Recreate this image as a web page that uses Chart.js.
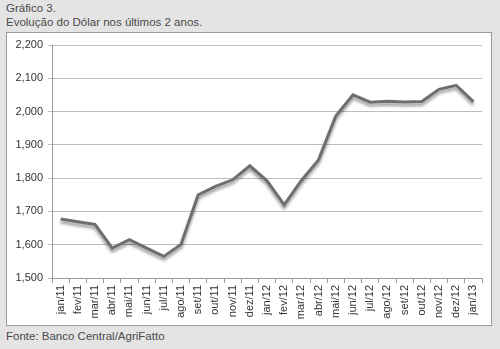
<!DOCTYPE html>
<html lang="pt">
<head>
<meta charset="UTF-8">
<title>Evolução do Dólar</title>
<script src="https://cdn.jsdelivr.net/npm/chart.js"></script>
<style>
    body {
        margin: 0;
        width: 500px;
        height: 349px;
        background: #e4e4e4;
        font-family: "Liberation Sans", Arial, sans-serif;
        position: relative;
        overflow: hidden;
    }
    .texto {
        position: absolute;
        left: 6px;
        font-size: 11.5px;
        color: #4a4a4a;
        white-space: nowrap;
    }
    #caixa {
        position: absolute;
        left: 6px;
        top: 32px;
        width: 484px;
        height: 292px;
        background: #fff;
        border: 1px solid #9a9a9a;
    }
    #grafico {
        position: absolute;
        left: 0;
        top: 0;
    }
</style>
</head>
<body>
<div class="texto" style="top:2px">Gráfico 3.</div>
<div class="texto" style="top:16px">Evolução do Dólar nos últimos 2 anos.</div>
<div id="caixa"><canvas id="grafico" width="484" height="292"></canvas></div>
<div class="texto" style="top:330px">Fonte: Banco Central/AgriFatto</div>

<script>
    const meses = ["jan/11", "fev/11", "mar/11", "abr/11", "mai/11", "jun/11", "jul/11", "ago/11",
        "set/11", "out/11", "nov/11", "dez/11", "jan/12", "fev/12", "mar/12", "abr/12", "mai/12",
        "jun/12", "jul/12", "ago/12", "set/12", "out/12", "nov/12", "dez/12", "jan/13"];
    const dolar = [1677, 1669, 1661, 1590, 1615, 1590, 1565, 1601,
        1750, 1775, 1795, 1837, 1792, 1720, 1793, 1855, 1987,
        2050, 2028, 2031, 2029, 2030, 2067, 2079, 2030];
    const yMin = 1500, yMax = 2200, yPasso = 100;

    // sombra por baixo da linha
    const sombra = {
        id: "sombra",
        beforeDatasetsDraw(chart) {
            const ctx = chart.ctx;
            ctx.save();
            ctx.shadowColor = "rgba(0,0,0,0.4)";
            ctx.shadowBlur = 3;
            ctx.shadowOffsetX = 0;
            ctx.shadowOffsetY = 3;
        },
        afterDatasetsDraw(chart) {
            chart.ctx.restore();
        }
    };

    new Chart(document.getElementById("grafico"), {
        type: "line",
        data: {
            labels: meses,
            datasets: [{
                data: dolar,
                borderColor: "#6e6e6e",
                borderWidth: 3,
                pointRadius: 0,
                tension: 0,
                fill: false
            }]
        },
        options: {
            responsive: false,
            animation: false,
            layout: { padding: { top: 12, right: 9, left: 0, bottom: 0 } },
            plugins: { legend: { display: false }, tooltip: { enabled: false } },
            scales: {
                x: {
                    offset: true,
                    grid: { offset: true, drawOnChartArea: false, drawTicks: true, tickLength: 5, color: "#9a9a9a" },
                    border: { color: "#9a9a9a" },
                    ticks: {
                        autoSkip: false, minRotation: 90, maxRotation: 90, padding: 2,
                        color: "#333", font: { family: "Liberation Sans", size: 11 }
                    },
                    afterFit(scale) { scale.height = 47; }
                },
                y: {
                    min: yMin,
                    max: yMax,
                    grid: { color: "#bdbdbd", tickLength: 4 },
                    border: { color: "#9a9a9a" },
                    ticks: {
                        stepSize: yPasso, padding: 5,
                        color: "#333", font: { family: "Liberation Sans", size: 11 },
                        callback: v => v.toLocaleString("en-US")
                    },
                    afterFit(scale) { scale.width = 45; }
                }
            }
        },
        plugins: [sombra]
    });
</script>
</body>
</html>
